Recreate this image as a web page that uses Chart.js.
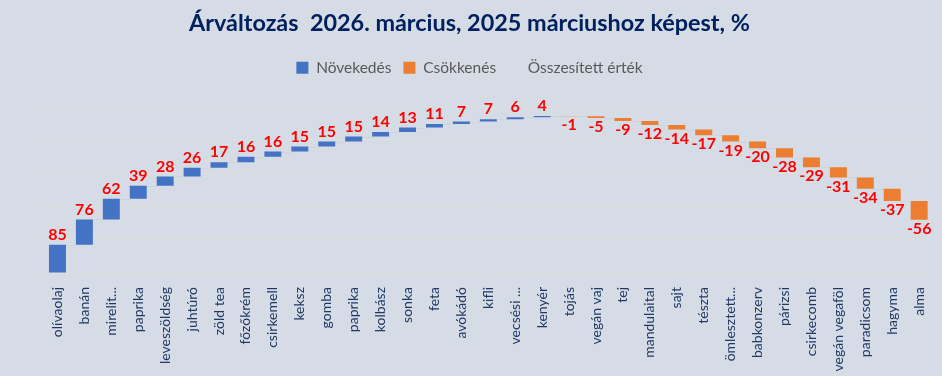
<!DOCTYPE html>
<html>
<head>
<meta charset="utf-8">
<script src="https://cdn.jsdelivr.net/npm/chart.js@4/dist/chart.umd.min.js"></script>
<style>
  html, body { margin: 0; padding: 0; background: #d6dce5; }
  canvas { display: block; }
</style>
</head>
<body>
<canvas id="arvaltozas" width="942" height="376"></canvas>
<script>
const termekek = ['olívaolaj', 'banán', 'mirelit...', 'paprika', 'leveszöldség', 'juhtúró', 'zöld tea', 'főzőkrém',
    'csirkemell', 'keksz', 'gomba', 'paprika', 'kolbász', 'sonka', 'feta', 'avókádó', 'kifli', 'vecsési ...',
    'kenyér', 'tojás', 'vegán vaj', 'tej', 'mandulaital', 'sajt', 'tészta', 'ömlesztett...', 'babkonzerv',
    'párizsi', 'csirkecomb', 'vegán vegaföl', 'paradicsom', 'hagyma', 'alma']
const valtozas = [85, 76, 62, 39, 28, 26, 17, 16, 16, 15, 15, 15, 14, 13, 11, 7, 7, 6, 4,
    -1, -5, -9, -12, -14, -17, -19, -20, -28, -29, -31, -34, -37, -56]

// waterfall: each bar floats from the running total to the next one
let szint = 0
const novekedes = [], csokkenes = [], vegpont = []
valtozas.forEach(v => {
    const kezd = szint
    szint += v
    vegpont.push(szint)
    if (v >= 0) { novekedes.push([kezd, szint]); csokkenes.push(null) }
    else { csokkenes.push([kezd, szint]); novekedes.push(null) }
})

const betu = 'Lato, "Open Sans", sans-serif'

// extra room under the legend
const legendTer = {
    id: 'legendTer',
    beforeLayout(chart) {
        const lg = chart.legend
        if (lg && !lg._megnyujtva) {
            const eredeti = lg.fit
            lg.fit = function () { eredeti.call(this); this.height += 21 }
            lg._megnyujtva = true
        }
    }
}

const osszekotok = {
    id: 'osszekotok',
    beforeDatasetsDraw(chart) {
        const ctx = chart.ctx, y = chart.scales.y
        const elemek = termekek.map((t, i) => chart.getDatasetMeta(valtozas[i] >= 0 ? 0 : 1).data[i])
        ctx.save()
        ctx.strokeStyle = '#cfd3da'
        ctx.lineWidth = 1
        for (let i = 0; i < elemek.length - 1; i++) {
            const a = elemek[i], b = elemek[i + 1]
            const py = Math.round(y.getPixelForValue(vegpont[i])) + 0.5
            ctx.beginPath()
            ctx.moveTo(a.x + a.width / 2, py)
            ctx.lineTo(b.x - b.width / 2, py)
            ctx.stroke()
        }
        ctx.restore()
    }
}

const cimkek = {
    id: 'cimkek',
    afterDatasetsDraw(chart) {
        const ctx = chart.ctx
        ctx.save()
        ctx.font = 'bold 16px ' + betu
        ctx.fillStyle = '#ff0000'
        ctx.textAlign = 'center'
        termekek.forEach((t, i) => {
            const v = valtozas[i]
            const el = chart.getDatasetMeta(v >= 0 ? 0 : 1).data[i]
            if (v >= 0) {
                ctx.textBaseline = 'bottom'
                ctx.fillText(v, el.x, Math.min(el.y, el.base) - 2)
            } else {
                ctx.textBaseline = 'top'
                ctx.fillText(v, el.x, Math.max(el.y, el.base) + 1)
            }
        })
        ctx.restore()
    }
}

new Chart(document.getElementById('arvaltozas'), {
    type: 'bar',
    data: {
        labels: termekek,
        datasets: [
            {
                label: 'Növekedés',
                backgroundColor: '#4472c4',
                data: novekedes
            }, {
                label: 'Csökkenés',
                backgroundColor: '#ed7d31',
                data: csokkenes
            }, {
                label: 'Összesített érték',
                backgroundColor: 'rgba(0,0,0,0)',
                borderColor: 'rgba(0,0,0,0)',
                data: []
            }
        ]
    },
    options: {
        responsive: false,
        animation: false,
        devicePixelRatio: 1,
        layout: { padding: { left: 0, right: 3, top: 0, bottom: 4 } },
        datasets: {
            bar: { grouped: false, barPercentage: 0.63, categoryPercentage: 1, borderSkipped: false }
        },
        plugins: {
            title: {
                display: true,
                text: 'Árváltozás  2026. március, 2025 márciushoz képest, %',
                color: '#002060',
                font: { family: betu, size: 23.4, weight: 'bold' },
                padding: { top: 9, bottom: 11 }
            },
            legend: {
                labels: {
                    color: '#595959',
                    font: { family: betu, size: 15.5 },
                    boxWidth: 12,
                    boxHeight: 12,
                    padding: 12
                }
            },
            tooltip: { enabled: false }
        },
        scales: {
            x: {
                grid: { display: false },
                border: { display: false },
                ticks: {
                    color: '#1f3864',
                    font: { family: betu, size: 14 },
                    minRotation: 90,
                    maxRotation: 90,
                    autoSkip: false,
                    padding: 6
                },
                afterFit(s) { s.height = 99 }
            },
            y: {
                min: 0,
                max: 500,
                ticks: { display: false, stepSize: 100 },
                border: { display: false },
                grid: { color: '#dedede', lineWidth: 1 },
                afterFit(s) { s.width = 44 }
            }
        }
    },
    plugins: [legendTer, osszekotok, cimkek]
});
</script>
</body>
</html>
